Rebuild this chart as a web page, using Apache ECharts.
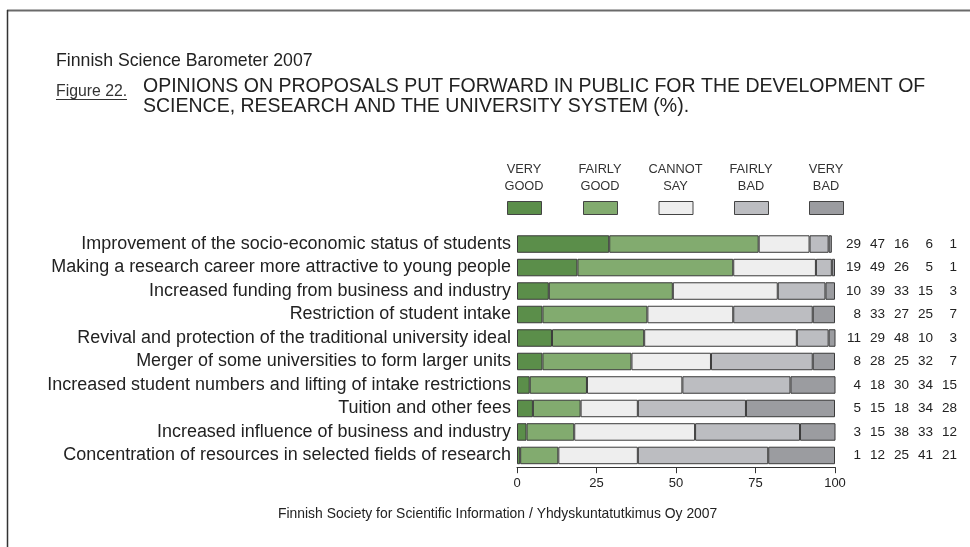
<!DOCTYPE html>
<html>
<head>
<meta charset="utf-8">
<script src="https://cdn.jsdelivr.net/npm/echarts@6/dist/echarts.min.js"></script>
<style>
  html, body { margin: 0; padding: 0; background: #ffffff; }
  #chart { width: 970px; height: 547px; }
</style>
</head>
<body>
<div id="chart"></div>
<script>
// Proposals, listed top to bottom
const categories = [
  'Improvement of the socio-economic status of students',
  'Making a research career more attractive to young people',
  'Increased funding from business and industry',
  'Restriction of student intake',
  'Revival and protection of the traditional university ideal',
  'Merger of some universities to form larger units',
  'Increased student numbers and lifting of intake restrictions',
  'Tuition and other fees',
  'Increased influence of business and industry',
  'Concentration of resources in selected fields of research'
];

// Share of respondents (%) per answer
const veryGood   = [29, 19, 10,  8, 11,  8,  4,  5,  3,  1];
const fairlyGood = [47, 49, 39, 33, 29, 28, 18, 15, 15, 12];
const cannotSay  = [16, 26, 33, 27, 48, 25, 30, 18, 38, 25];
const fairlyBad  = [ 6,  5, 15, 25, 10, 32, 34, 34, 33, 41];
const veryBad    = [ 1,  1,  3,  7,  3,  7, 15, 28, 12, 21];

const answerNames = ['VERY GOOD', 'FAIRLY GOOD', 'CANNOT SAY', 'FAIRLY BAD', 'VERY BAD'];
const answerValues = [veryGood, fairlyGood, cannotSay, fairlyBad, veryBad];
const answerColors = ['#5b8e4a', '#82ab6f', '#eeeeee', '#bcbdc1', '#9b9ca0'];

// x axis ticks
const xMin = 0, xMax = 100, xStep = 25;

const FONT = "'Liberation Sans', Arial, Helvetica, sans-serif";
const TEXT = '#222222';

const chart = echarts.init(document.getElementById('chart'), null, { renderer: 'canvas' });

const gridLeft = 517, gridRight = 135, gridTop = 232.3, gridBottom = 79.8;

// legend swatches, one per answer, in a row above the bars
const legendCenters = [524, 600, 675.5, 751, 826];
const legends = answerNames.map((name, i) => ({
  data: [name],
  left: legendCenters[i] - 17,
  top: 201,
  padding: 0,
  itemWidth: 34,
  itemHeight: 13,
  icon: 'rect',
  selectedMode: false,
  formatter: () => '',
  itemStyle: { borderColor: '#444', borderWidth: 1 },
  textStyle: { fontSize: 1 }
}));

// two-line captions above the swatches
const legendCaptions = answerNames.map((name, i) => ({
  type: 'text',
  x: legendCenters[i],
  y: 177.5,
  style: {
    text: name.split(' ').join('\n'),
    textAlign: 'center',
    textVerticalAlign: 'middle',
    font: '12.8px ' + FONT,
    lineHeight: 17,
    fill: '#333'
  }
}));

// value columns shown to the right of each bar
const valueRich = { v: { width: 24, align: 'right', fontSize: 13.5, fontFamily: FONT, color: TEXT } };

const series = answerNames.map((name, i) => ({
  name,
  type: 'bar',
  stack: 'total',
  data: answerValues[i],
  barWidth: 17.5,
  itemStyle: { color: answerColors[i], borderColor: '#3a3a3a', borderWidth: 1 },
  emphasis: { disabled: true },
  animation: false
}));

chart.setOption({
  animation: false,
  title: [
    {
      text: 'Finnish Science Barometer 2007',
      left: 56, top: 52.5, padding: 0,
      textStyle: { fontFamily: FONT, fontSize: 17.7, fontWeight: 'normal', color: TEXT }
    },
    {
      text: 'Figure 22.',
      left: 56, top: 83.5, padding: 0,
      textStyle: { fontFamily: FONT, fontSize: 15.8, fontWeight: 'normal', color: '#333' }
    },
    {
      text: 'OPINIONS ON PROPOSALS PUT FORWARD IN PUBLIC FOR THE DEVELOPMENT OF\nSCIENCE, RESEARCH AND THE UNIVERSITY SYSTEM (%).',
      left: 143, top: 77, padding: 0,
      textStyle: { fontFamily: FONT, fontSize: 19.5, fontWeight: 'normal', color: TEXT, lineHeight: 20 }
    },
    {
      text: 'Finnish Society for Scientific Information / Yhdyskuntatutkimus Oy 2007',
      left: 278, top: 507, padding: 0,
      textStyle: { fontFamily: FONT, fontSize: 13.9, fontWeight: 'normal', color: TEXT }
    }
  ],
  legend: legends,
  grid: { left: gridLeft, right: gridRight, top: gridTop, bottom: gridBottom, containLabel: false },
  xAxis: {
    type: 'value',
    min: xMin, max: xMax, interval: xStep,
    axisLine: { show: true, lineStyle: { color: '#333', width: 1 } },
    axisTick: { show: true, length: 6, lineStyle: { color: '#333', width: 1 } },
    splitLine: { show: false },
    axisLabel: { margin: 10, fontFamily: FONT, fontSize: 13, color: TEXT }
  },
  yAxis: [
    {
      type: 'category',
      data: categories,
      inverse: true,
      axisLine: { show: false },
      axisTick: { show: false },
      axisLabel: { margin: 6, fontFamily: FONT, fontSize: 17.95, color: TEXT }
    },
    {
      type: 'category',
      data: categories,
      inverse: true,
      position: 'right',
      axisLine: { show: false },
      axisTick: { show: false },
      axisLabel: {
        margin: 2,
        align: 'left',
        rich: valueRich,
        formatter: (value, idx) => answerValues.map(arr => '{v|' + arr[idx] + '}').join('')
      }
    }
  ],
  series,
  graphic: [
    // page frame
    { type: 'line', shape: { x1: 7, y1: 10.5, x2: 970, y2: 10.5 }, style: { stroke: '#6a6a6a', lineWidth: 2 } },
    { type: 'line', shape: { x1: 7.5, y1: 10, x2: 7.5, y2: 547 }, style: { stroke: '#333', lineWidth: 1.5 } },
    // underline of the figure number
    { type: 'line', shape: { x1: 56, y1: 99.5, x2: 127, y2: 99.5 }, style: { stroke: '#333', lineWidth: 1 } },
    ...legendCaptions
  ]
});
</script>
</body>
</html>
